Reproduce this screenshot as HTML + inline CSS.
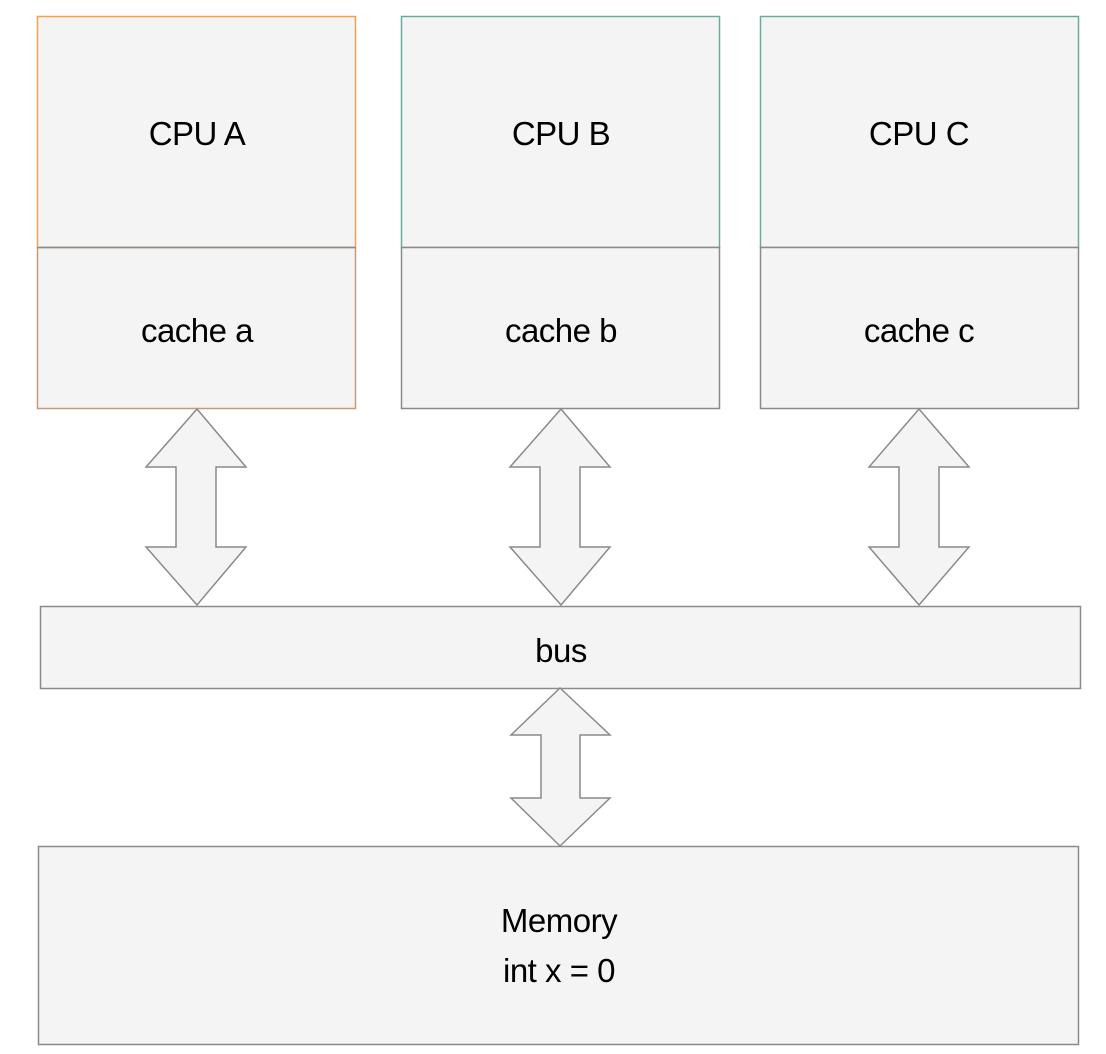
<!DOCTYPE html>
<html><head><meta charset="utf-8"><style>
html,body{margin:0;padding:0;background:#fff;}
svg{display:block;}
text{font-family:"Liberation Sans",sans-serif;font-size:33px;fill:#000;text-anchor:middle;letter-spacing:-0.5px;}
</style></head><body>
<svg width="1106" height="1054" viewBox="0 0 1106 1054" xmlns="http://www.w3.org/2000/svg">
<g fill="#f4f4f4" stroke-width="1.5">
<rect x="37.5" y="16.5" width="318" height="231" stroke="#f5a050"/>
<rect x="37.5" y="247.5" width="318" height="161" stroke="#c89a78"/>
<line x1="37.5" y1="247.5" x2="355.5" y2="247.5" stroke="#8a8a8a"/>
<rect x="401.5" y="16.5" width="318" height="231" stroke="#6aaa9e"/>
<rect x="401.5" y="247.5" width="318" height="161" stroke="#8a8a8a"/>
<rect x="760.5" y="16.5" width="318" height="231" stroke="#6aaa9e"/>
<rect x="760.5" y="247.5" width="318" height="161" stroke="#8a8a8a"/>
<rect x="40.5" y="606.5" width="1040" height="82" stroke="#8a8a8a"/>
<rect x="38.5" y="846.5" width="1040" height="198" stroke="#8a8a8a"/>
<path d="M197 409 L246 467 L216 467 L216 547 L246 547 L197 605 L146 547 L176 547 L176 467 L146 467 Z" stroke="#8a8a8a"/>
<path d="M561 409 L610 467 L580 467 L580 547 L610 547 L561 605 L510 547 L540 547 L540 467 L510 467 Z" stroke="#8a8a8a"/>
<path d="M919 409 L969 467 L939 467 L939 547 L969 547 L919 605 L869 547 L899 547 L899 467 L869 467 Z" stroke="#8a8a8a"/>
<path d="M560 688 L610 735 L580 735 L580 798 L610 798 L560 846 L511 798 L541 798 L541 735 L511 735 Z" stroke="#8a8a8a"/>
</g>
<text x="197" y="145">CPU A</text>
<text x="561" y="145">CPU B</text>
<text x="919" y="145">CPU C</text>
<text x="197" y="342">cache a</text>
<text x="561" y="342">cache b</text>
<text x="919" y="342">cache c</text>
<text x="561" y="662">bus</text>
<text x="559" y="932">Memory</text>
<text x="559" y="982">int x = 0</text>
</svg>
</body></html>
